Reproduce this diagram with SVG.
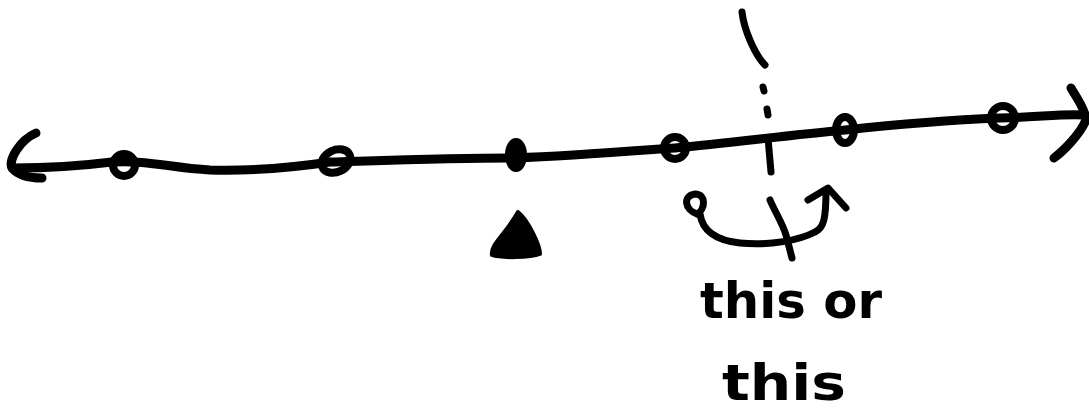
<svg xmlns="http://www.w3.org/2000/svg" width="1089" height="410" viewBox="0 0 1089 410">
<style>
.ln{fill:none;stroke:#000;stroke-width:9;stroke-linecap:round;stroke-linejoin:round}
.thin{fill:none;stroke:#000;stroke-width:7;stroke-linecap:round;stroke-linejoin:round}
.pt{fill:none;stroke:#000;stroke-width:8}
.solid{fill:#000;stroke:#000;stroke-width:4;stroke-linejoin:round}
.hand{font-family:"DejaVu Sans",sans-serif;font-size:50px;font-weight:bold;fill:#000}
</style>
<rect width="1089" height="410" fill="#fff"/>
<g id="connectors">
<path class="ln" d="M14,168 C40,168 80,166 112,162 C150,160 170,168 210,170 C250,171 290,168 330,162 C400,160 460,158 515,158 C570,156 620,152 675,148 C730,143 790,135 845,130 C900,124 950,120 1000,118 C1040,117 1060,114 1083,115"/>
<path class="ln" d="M36,133 C20,140 8,160 12,168 C18,175 30,178 42,178"/>
<path class="ln" d="M1071,88 C1075,95 1086,110 1086,120 C1080,135 1062,152 1054,158"/>
<path class="thin" d="M742,12 C744,30 755,55 765,65"/>
<path class="thin" d="M763,87 L764,91 M767,109 L768,115 M768,138 L771,172 M770,200 C775,212 782,222 786,235 L792,258"/>
<path class="thin" d="M700,214 C702,228 712,240 740,243 C770,246 800,240 815,232 C824,228 826,218 826,190"/>
<path class="thin" d="M808,200 L828,188 L846,208"/>
<path class="thin" d="M697,214 C685,210 682,196 695,194 C707,194 705,210 697,214"/>
</g>
<g id="p1"><circle class="pt" cx="124" cy="165" r="11"/></g>
<g id="p2"><ellipse class="pt" cx="336" cy="161" rx="15" ry="11" transform="rotate(-25 336 161)"/></g>
<g id="p3"><ellipse class="solid" cx="516" cy="155" rx="9" ry="15"/></g>
<g id="p4"><circle class="pt" cx="675" cy="148" r="11"/></g>
<g id="p5"><ellipse class="pt" cx="845" cy="130" rx="9" ry="13"/></g>
<g id="p6"><circle class="pt" cx="1003" cy="118" r="12"/></g>
<g id="marker"><path class="solid" d="M518,212 C528,220 540,245 540,254 C530,258 500,258 492,255 C490,245 505,235 518,212 Z"/></g>
<g id="label">
<text class="hand" x="700" y="318" textLength="182" lengthAdjust="spacingAndGlyphs">this or</text>
<text class="hand" x="722" y="400" textLength="124" lengthAdjust="spacingAndGlyphs">this</text>
</g>
</svg>
